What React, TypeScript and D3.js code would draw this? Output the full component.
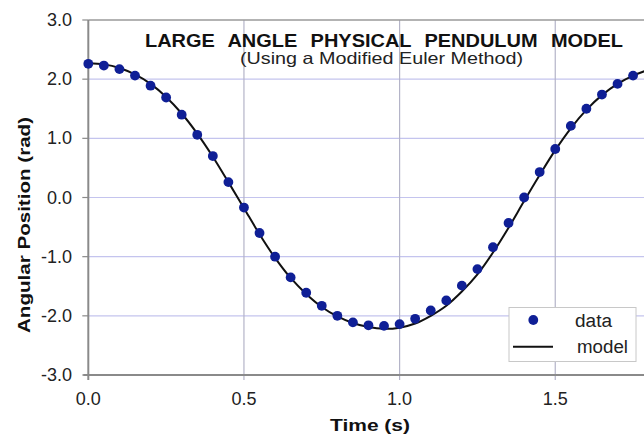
import React from "react";
import * as d3 from "d3";

const times = [0, 0.05, 0.1, 0.15, 0.2, 0.25, 0.3, 0.35, 0.4, 0.45, 0.5, 0.55, 0.6, 0.65, 0.7, 0.75, 0.8, 0.85, 0.9, 0.95, 1.0, 1.05, 1.1, 1.15, 1.2, 1.25, 1.3, 1.35, 1.4, 1.45, 1.5, 1.55, 1.6, 1.65, 1.7, 1.75, 1.8];
const dataValues = [2.26, 2.23, 2.17, 2.06, 1.89, 1.69, 1.40, 1.06, 0.70, 0.26, -0.17, -0.60, -1.00, -1.35, -1.61, -1.83, -2.00, -2.11, -2.16, -2.17, -2.14, -2.05, -1.91, -1.74, -1.49, -1.21, -0.84, -0.43, 0.00, 0.43, 0.82, 1.21, 1.50, 1.74, 1.92, 2.06];
const modelValues = [2.27, 2.25, 2.19, 2.08, 1.92, 1.70, 1.42, 1.08, 0.69, 0.26, -0.18, -0.62, -1.02, -1.36, -1.63, -1.85, -2.01, -2.12, -2.19, -2.22, -2.20, -2.13, -2.00, -1.83, -1.59, -1.30, -0.93, -0.51, -0.06, 0.38, 0.80, 1.17, 1.48, 1.73, 1.92, 2.06, 2.16];
const xTicks = [0, 0.5, 1.0, 1.5];
const yTicks = [-3, -2, -1, 0, 1, 2, 3];
const title = "LARGE ANGLE PHYSICAL PENDULUM MODEL";
const subtitle = "(Using a Modified Euler Method)";
const xLabel = "Time (s)";
const yLabel = "Angular Position (rad)";
const legendLabels = ["data", "model"];

const W = 644;
const H = 434;
const font = "'Liberation Sans', Arial, Helvetica, sans-serif";
const fmt = (v: number) => d3.format(".1f")(v).replace("\u2212", "-");

export default function App() {
  const x = d3.scaleLinear().domain([0, 2]).range([88.3, 88.3 + 622.6]);
  const y = d3.scaleLinear().domain([-3, 3]).range([375, 20]);
  const left = x(0);
  const right = x(2);
  const top = y(3);
  const bottom = y(-3);

  const modelPts: [number, number][] = modelValues.map((v, i) => [times[i], v]);
  const line = d3
    .line<[number, number]>()
    .x((d) => x(d[0]))
    .y((d) => y(d[1]))
    .curve(d3.curveCatmullRom.alpha(0.5));

  return (
    <svg
      width={W}
      height={H}
      style={{ position: "absolute", left: 0, top: 0, background: "#fff" }}
      fontFamily={font}
    >
      <rect x={0} y={0} width={W} height={H} fill="#fff" />
      {yTicks.filter((t) => t > -3 && t < 3).map((t) => (
        <line key={"hg" + t} x1={left} x2={right} y1={y(t)} y2={y(t)} stroke="#c4c4ee" strokeWidth={1.2} />
      ))}
      {xTicks.filter((t) => t > 0).map((t) => (
        <line key={"vg" + t} x1={x(t)} x2={x(t)} y1={top} y2={bottom + 5} stroke="#b4b4c8" strokeWidth={1.2} />
      ))}
      <line x1={left} x2={right} y1={top} y2={top} stroke="#9a9a9a" strokeWidth={1.5} />
      <line x1={left} x2={left} y1={top} y2={bottom + 5} stroke="#8a8a8a" strokeWidth={2} />
      <line x1={left - 5} x2={right} y1={bottom} y2={bottom} stroke="#8a8a8a" strokeWidth={2} />
      {yTicks.map((t) => (
        <line key={"yt" + t} x1={left - 6} x2={left} y1={y(t)} y2={y(t)} stroke="#8a8a8a" strokeWidth={1.2} />
      ))}
      {yTicks.map((t) => (
        <text key={"yl" + t} x={72} y={y(t) + 6} textAnchor="end" fontSize={18} fill="#222">
          {fmt(t)}
        </text>
      ))}
      {xTicks.map((t) => (
        <text key={"xl" + t} x={x(t)} y={405} textAnchor="middle" fontSize={18} fill="#222">
          {fmt(t)}
        </text>
      ))}
      <path d={line(modelPts) || ""} fill="none" stroke="#111" strokeWidth={2} />
      {dataValues.map((v, i) => (
        <circle key={"p" + i} cx={x(times[i])} cy={y(v)} r={4.9} fill="#0f1f96" />
      ))}
      <text
        x={145}
        y={46.5}
        fontSize={18}
        fontWeight="bold"
        fill="#111"
        wordSpacing={7}
        textLength={478}
        lengthAdjust="spacingAndGlyphs"
      >
        {title}
      </text>
      <text x={240} y={64} fontSize={16.5} fill="#222" textLength={283} lengthAdjust="spacingAndGlyphs">
        {subtitle}
      </text>
      <text x={330} y={431} fontSize={17} fontWeight="bold" fill="#111" textLength={80} lengthAdjust="spacingAndGlyphs">
        {xLabel}
      </text>
      <text
        transform={`translate(30,225) rotate(-90)`}
        textAnchor="middle"
        fontSize={17}
        fontWeight="bold"
        fill="#111"
        textLength={216}
        lengthAdjust="spacingAndGlyphs"
      >
        {yLabel}
      </text>
      <rect x={509} y={307.5} width={127} height={54} fill="#fff" stroke="#c8c8c8" strokeWidth={1} />
      <circle cx={533.3} cy={320} r={4.9} fill="#0f1f96" />
      <text x={575} y={326.5} fontSize={18} fill="#222" textLength={37} lengthAdjust="spacingAndGlyphs">
        {legendLabels[0]}
      </text>
      <line x1={513} x2={553} y1={346.7} y2={346.7} stroke="#111" strokeWidth={2} />
      <text x={577} y={353} fontSize={18} fill="#222" textLength={51} lengthAdjust="spacingAndGlyphs">
        {legendLabels[1]}
      </text>
    </svg>
  );
}
